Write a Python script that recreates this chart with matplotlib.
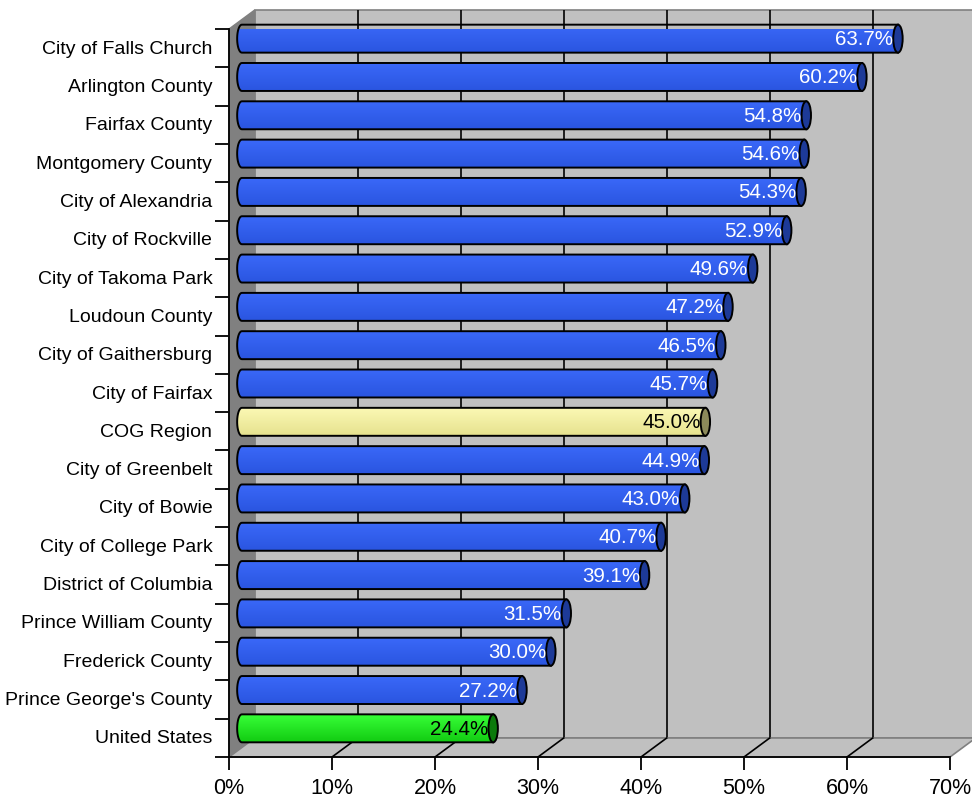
import numpy as np
import matplotlib
matplotlib.use("Agg")
import matplotlib.pyplot as plt
from matplotlib.patches import Polygon, Ellipse, Rectangle
from matplotlib.transforms import Affine2D, IdentityTransform
from matplotlib.colors import LinearSegmentedColormap

plt.rcParams['font.family'] = ['Liberation Sans', 'DejaVu Sans']

categories = ["City of Falls Church", "Arlington County", "Fairfax County",
              "Montgomery County", "City of Alexandria", "City of Rockville",
              "City of Takoma Park", "Loudoun County", "City of Gaithersburg",
              "City of Fairfax", "COG Region", "City of Greenbelt", "City of Bowie",
              "City of College Park", "District of Columbia", "Prince William County",
              "Frederick County", "Prince George's County", "United States"]
values = [63.7, 60.2, 54.8, 54.6, 54.3, 52.9, 49.6, 47.2, 46.5, 45.7,
          45.0, 44.9, 43.0, 40.7, 39.1, 31.5, 30.0, 27.2, 24.4]
xticks = [0, 10, 20, 30, 40, 50, 60, 70]

# body gradient (top, bottom), cap colour, label colour
styles = {
    "blue": ("#3a68f8", "#2a55e0", "#1d3a98", "white"),
    "yellow": ("#fbf8b4", "#e6e28e", "#8c8a5a", "black"),
    "green": ("#38ff38", "#12cc12", "#0b7a0b", "black"),
}
special = {"COG Region": "yellow", "United States": "green"}

DX, DY = 25.7, 19.0   # depth offset in pixels
WALL = "#c0c0c0"
SIDE = "#808080"

fig = plt.figure(figsize=(9.72, 8.03), dpi=100)
ax = fig.add_axes([229 / 972, 45 / 803, 721 / 972, 728 / 803])
ax.set_xlim(0, 70)
ax.set_ylim(len(categories) - 0.5, -0.5)
ax.patch.set_visible(False)
for s in ["top", "right"]:
    ax.spines[s].set_visible(False)
for s in ["left", "bottom"]:
    ax.spines[s].set_linewidth(1.3)
    ax.spines[s].set_zorder(20)

back = ax.transData + Affine2D().translate(DX, DY)
mid = ax.transData + Affine2D().translate(DX / 2, DY / 2)
y0, y1 = ax.get_ylim()


def proj(x, y, d):
    px, py = ax.transData.transform((x, y))
    return (px + d * DX, py + d * DY)


# back wall
ax.add_patch(Rectangle((0, y1), 70, y0 - y1, transform=back, facecolor=WALL,
                       edgecolor=SIDE, lw=1.2, clip_on=False, zorder=1))
ax.vlines(xticks[1:-1], y1, y0, transform=back, color="black", lw=1.2,
          clip_on=False, zorder=2)

# side wall
side = [proj(0, y0, 0), proj(0, y1, 0), proj(0, y1, 1), proj(0, y0, 1)]
ax.add_patch(Polygon(side, closed=True, transform=IdentityTransform(),
                     facecolor=SIDE, edgecolor=SIDE, lw=1, clip_on=False, zorder=3))

# floor
floor = [proj(0, y0, 0), proj(70, y0, 0), proj(70, y0, 1), proj(0, y0, 1)]
ax.add_patch(Polygon(floor, closed=True, transform=IdentityTransform(),
                     facecolor=WALL, edgecolor=SIDE, lw=1.2, clip_on=False, zorder=3))
for t in xticks[1:-1]:
    a, b = proj(t, y0, 0), proj(t, y0, 1)
    ax.plot([a[0], b[0]], [a[1], b[1]], transform=IdentityTransform(),
            color="black", lw=1.2, clip_on=False, zorder=4)

# cylinders
h = 0.73
hw = 4.7 / (ax.transData.transform((10, 0))[0] - ax.transData.transform((0, 0))[0]) * 10
ang = np.linspace(0, np.pi, 20)
for i, (cat, v) in enumerate(zip(categories, values)):
    top_c, bot_c, cap_c, txt_c = styles[special.get(cat, "blue")]
    yt, yb = i - h / 2, i + h / 2
    pts = [(0, yt), (v, yt), (v, yb), (0, yb)]
    pts += [(-hw * np.sin(a), i + h / 2 * np.cos(a)) for a in ang]
    body = Polygon(pts, closed=True, transform=mid, facecolor="none",
                   edgecolor="black", lw=1.4, clip_on=False, zorder=11)
    ax.add_patch(body)
    cmap = LinearSegmentedColormap.from_list("g", [top_c, bot_c])
    grad = np.linspace(0, 1, 64).reshape(-1, 1)
    im = ax.imshow(grad, cmap=cmap, aspect="auto", origin="upper",
                   extent=(-hw, v, yb, yt), transform=mid, zorder=10,
                   interpolation="bilinear")
    im.set_clip_path(body)
    ax.add_patch(Ellipse((v, i), 2 * hw, h, transform=mid, facecolor=cap_c,
                         edgecolor="black", lw=1.4, clip_on=False, zorder=12))
    ax.text(v - hw, i, f"{v:.1f}%", transform=mid, ha="right", va="center",
            fontsize=14.8, color=txt_c, zorder=13)

ax.set_xlim(0, 70)
ax.set_ylim(len(categories) - 0.5, -0.5)

ax.set_xticks(xticks)
ax.set_xticklabels([f"{t}%" for t in xticks], fontsize=15.5)
ax.tick_params(axis="x", direction="out", length=9.5, width=1.3, pad=5)

ax.set_yticks(np.arange(-0.5, len(categories), 1))
ax.set_yticklabels([])
ax.tick_params(axis="y", which="major", direction="out", length=10, width=1.3)
ax.set_yticks(range(len(categories)), minor=True)
ax.set_yticklabels(categories, minor=True, fontsize=14)
ax.tick_params(axis="y", which="minor", length=0, pad=12)
for lbl in ax.get_yticklabels(minor=True):
    lbl.set_va("center")

fig.savefig("out.png", dpi=100, facecolor="white")
